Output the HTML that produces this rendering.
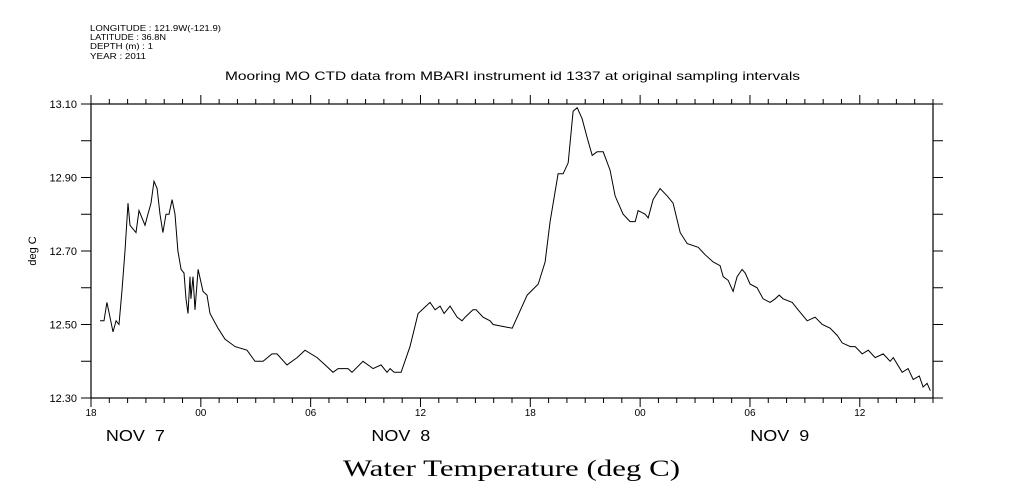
<!DOCTYPE html>
<html><head><meta charset="utf-8"><style>
html,body{margin:0;padding:0;background:#fff;}
svg{display:block;}
text{font-family:"Liberation Sans",sans-serif;fill:#000;}
</style></head><body>
<svg id="chart" width="1009" height="504" viewBox="0 0 1009 504" xmlns="http://www.w3.org/2000/svg">
<rect width="1009" height="504" fill="#fff"/>
<g font-size="8.5">
<text x="90" y="31" textLength="131" lengthAdjust="spacingAndGlyphs">LONGITUDE : 121.9W(-121.9)</text>
<text x="90" y="40" textLength="76" lengthAdjust="spacingAndGlyphs">LATITUDE : 36.8N</text>
<text x="90" y="49" textLength="63" lengthAdjust="spacingAndGlyphs">DEPTH (m) : 1</text>
<text x="90" y="59" textLength="56" lengthAdjust="spacingAndGlyphs">YEAR : 2011</text>
</g>
<text x="225" y="80" font-size="12" textLength="575" lengthAdjust="spacingAndGlyphs">Mooring MO CTD data from MBARI instrument id 1337 at original sampling intervals</text>
<text transform="translate(36,251) rotate(-90)" font-size="11" text-anchor="middle">deg C</text>
<text x="343" y="476" font-size="23" textLength="337" lengthAdjust="spacingAndGlyphs" style="font-family:'Liberation Serif',serif">Water Temperature (deg C)</text>
<g id="axes"></g>
<path id="series" fill="none" stroke="#000" stroke-width="1"/>
</svg>
<script>
// hours since Nov 7 18:00
const hours=[0.49,0.71,0.87,1.04,1.20,1.37,1.53,1.69,1.86,2.02,2.13,2.46,2.62,2.95,3.11,3.28,3.44,3.61,3.77,3.93,4.10,4.26,4.43,4.59,4.75,4.92,5.08,5.19,5.30,5.41,5.46,5.57,5.68,5.85,6.12,6.34,6.50,6.94,7.32,7.87,8.52,8.96,9.40,9.89,10.16,10.71,11.26,11.69,12.35,12.79,13.22,13.50,14.04,14.26,14.86,15.41,15.85,16.17,16.34,16.56,16.94,17.43,17.87,18.52,18.80,19.07,19.29,19.62,20.00,20.27,20.44,20.87,21.04,21.42,21.80,21.97,23.01,23.83,24.43,24.81,25.08,25.52,25.79,26.07,26.34,26.56,26.83,27.10,27.38,27.65,27.98,28.36,28.63,29.07,29.45,29.73,29.89,30.27,30.44,30.71,31.09,31.48,31.80,32.19,32.57,33.17,33.55,33.99,34.37,34.54,34.81,35.08,35.30,35.57,35.74,36.01,36.39,36.72,37.10,37.38,37.60,37.81,38.31,38.63,39.13,39.56,39.95,40.38,40.77,41.04,41.48,41.75,42.13,42.46,42.84,43.28,43.66,43.83,44.32,44.64,44.92,45.25,45.46,45.68,45.85];
const temps=[12.51,12.51,12.56,12.52,12.48,12.51,12.50,12.59,12.70,12.83,12.77,12.75,12.81,12.77,12.80,12.83,12.89,12.87,12.80,12.75,12.80,12.80,12.84,12.80,12.70,12.65,12.64,12.57,12.53,12.63,12.57,12.63,12.54,12.65,12.59,12.58,12.53,12.49,12.46,12.44,12.43,12.40,12.40,12.42,12.42,12.39,12.41,12.43,12.41,12.39,12.37,12.38,12.38,12.37,12.40,12.38,12.39,12.37,12.38,12.37,12.37,12.44,12.53,12.56,12.54,12.55,12.53,12.55,12.52,12.51,12.52,12.54,12.54,12.52,12.51,12.50,12.49,12.58,12.61,12.67,12.78,12.91,12.91,12.94,13.08,13.09,13.06,13.01,12.96,12.97,12.97,12.92,12.85,12.80,12.78,12.78,12.81,12.80,12.79,12.84,12.87,12.85,12.83,12.75,12.72,12.71,12.69,12.67,12.66,12.63,12.62,12.59,12.63,12.65,12.64,12.61,12.60,12.57,12.56,12.57,12.58,12.57,12.56,12.54,12.51,12.52,12.50,12.49,12.47,12.45,12.44,12.44,12.42,12.43,12.41,12.42,12.40,12.41,12.37,12.38,12.35,12.36,12.33,12.34,12.32];
const yTickLabels=["12.30","12.50","12.70","12.90","13.10"];
const xTickLabels=["18","00","06","12","18","00","06","12"];
const dayLabels=["NOV  7","NOV  8","NOV  9"];
const dayLabelHours=[2.4,16.9,37.6];

const L=91,R=933,T=104,B=398,H0=0,H1=46,V0=12.30,V1=13.10;
const xs=h=>L+(h-H0)/(H1-H0)*(R-L);
const ys=v=>B-(v-V0)/(V1-V0)*(B-T);
const NS="http://www.w3.org/2000/svg";
const ax=document.getElementById('axes');
function mk(tag,attrs,parent){const e=document.createElementNS(NS,tag);for(const k in attrs)e.setAttribute(k,attrs[k]);(parent||ax).appendChild(e);return e;}
const frame=mk('rect',{x:L,y:T,width:R-L,height:B-T,fill:'none',stroke:'#000','stroke-width':1.2});


for(let h=0;h<=H1;h++){
  const x=xs(h),len=(h%6===0)?9:5;
  const t1=mk('line',{x1:x,x2:x,y1:B,y2:B+len,stroke:'#000'});
  
  
  const t2=mk('line',{x1:x,x2:x,y1:T,y2:T-len,stroke:'#000'});
  
  
}
xTickLabels.forEach((s,i)=>{
  const t=mk('text',{x:xs(i*6),y:416,'font-size':10,'text-anchor':'middle'});t.textContent=s;
  
  
});
dayLabels.forEach((s,i)=>{
  const t=mk('text',{x:xs(dayLabelHours[i])-29,y:441,'font-size':16,textLength:59,lengthAdjust:'spacingAndGlyphs'});t.textContent=s;
  t.style.whiteSpace='pre';
  
  
});
for(let k=0;k<=8;k++){
  const v=V0+k*0.1,y=ys(v);
  const a=mk('line',{x1:L-10,x2:L,y1:y,y2:y,stroke:'#000'});
  
  
  const b=mk('line',{x1:R,x2:R+10,y1:y,y2:y,stroke:'#000'});
  
  
}
yTickLabels.forEach(s=>{
  const t=mk('text',{x:77,y:ys(parseFloat(s))+4,'font-size':11,'text-anchor':'end'});t.textContent=s;
  
  
});
document.getElementById('series').setAttribute('d',hours.map((h,i)=>(i?'L':'M')+xs(h).toFixed(1)+','+ys(temps[i]).toFixed(1)).join(''));
</script>
</body></html>
